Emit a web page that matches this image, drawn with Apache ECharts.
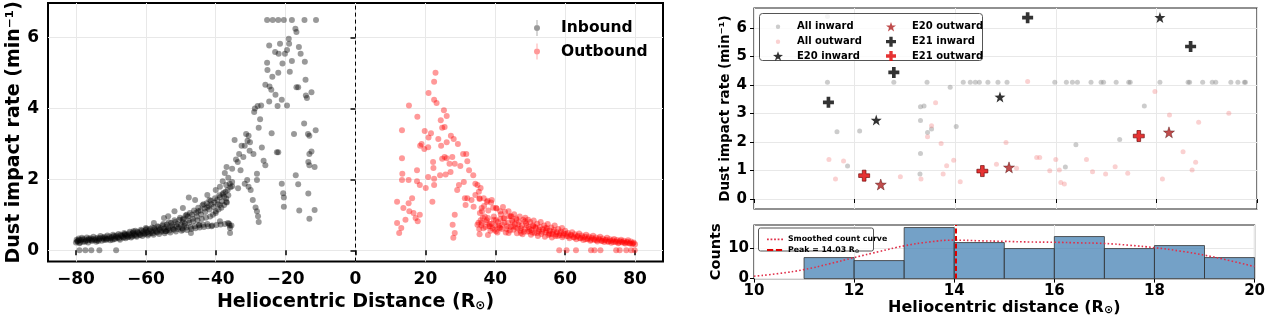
<!DOCTYPE html>
<html>
<head>
<meta charset="utf-8">
<script src="https://cdn.jsdelivr.net/npm/echarts@6/dist/echarts.min.js"></script>
<style>
  html, body { margin: 0; padding: 0; background: #fff; }
  #chart { width: 1268px; height: 317px; }
</style>
</head>
<body>
<div id="chart"></div>
<script>
// ---- left panel: impact rate vs signed heliocentric distance ----
const leftXTicks = [-80, -60, -40, -20, 0, 20, 40, 60, 80]
const leftYTicks = [0, 2, 4, 6]

// inbound, scattered part
const inboundSpread = [
  [-25.3,6.5],[-23.7,6.5],[-22.1,6.5],[-20.5,6.5],[-18.2,6.5],[-14.6,6.5],[-11.3,6.5],
  [-17.2,6.25],[-16.9,6.16],[-19.1,5.97],[-19.0,5.83],[-21.6,5.83],[-19.6,5.65],[-16.2,5.74],
  [-24.7,5.78],[-23.0,5.6],[-20.2,5.55],[-15.7,5.55],[-22.0,5.55],[-25.3,5.29],[-14.5,5.32],
  [-18.2,5.34],[-25.2,5.09],[-20.9,5.27],[-22.1,5.01],[-23.8,4.9],[-18.8,5.04],[-14.3,4.81],
  [-25.8,4.67],[-24.6,4.62],[-24.1,4.53],[-16.9,4.6],[-16.4,4.6],[-12.6,4.46],[-14.2,4.37],
  [-13.9,4.3],[-22.9,4.39],[-21.1,4.25],[-19.6,4.09],[-22.3,4.07],[-24.7,4.2],[-28.0,4.07],
  [-27.0,4.09],[-28.8,4.0],[-29.0,3.9],[-27.3,3.7],[-14.7,3.58],[-11.4,3.39],[-27.7,3.46],
  [-34.6,3.11],[-31.3,3.28],[-30.6,3.23],[-30.9,3.09],[-30.2,3.05],[-24.0,3.3],[-17.6,3.28],
  [-13.6,3.28],[-13.2,3.23],[-32.6,2.95],[-31.7,2.95],[-26.8,2.9],[-30.3,2.81],[-22.5,2.77],
  [-22.1,2.77],[-12.6,2.79],[-13.2,2.72],[-33.3,2.72],[-29.2,2.72],[-32.1,2.63],[-34.2,2.56],
  [-33.7,2.49],[-26.3,2.53],[-13.5,2.49],[-13.2,2.4],[-25.8,2.4],[-36.9,2.35],[-11.7,2.35],
  [-35.3,2.3],[-32.9,2.26],[-37.4,2.18],[-28.2,2.16],[-17.1,2.12],[-36.4,2.05],[-31.0,1.98],
  [-28.2,1.98],[-38.0,1.95],[-35.3,1.93],[-16.4,1.86],[-21.1,1.88],[-31.7,1.88],[-37.0,1.84],
  [-35.3,1.81],[-30.6,1.79],[-38.8,1.79],[-33.6,1.75],[-40.0,1.7],[-30.0,1.7],[-20.7,1.61],
  [-13.5,1.6],[-42.4,1.56],[-37.6,1.51],[-20.5,1.49],[-47.7,1.49],[-45.9,1.42],[-41.8,1.42],
  [-29.4,1.42],[-37.0,1.36],[-43.5,1.3],[-38.8,1.28],[-42.4,1.21],[-20.5,1.23],[-28.6,1.21],
  [-16.1,1.12],[-11.7,1.14],[-49.4,1.19],[-28.2,1.1],[-51.8,1.1],[-45.0,1.1],[-40.0,1.05],
  [-27.9,0.96],[-48.3,1.0],[-53.6,0.96],[-13.2,0.89],[-27.7,0.8],[-54.8,0.91],[-49.4,0.86],
  [-38.8,0.82],[-36.5,0.77],[-36.0,0.7],[-57.7,0.77],[-44.7,0.72],[-41.2,0.68],[-35.9,0.63],
  [-49.4,0.58],[-60.0,0.63],[-54.2,0.54],[-35.9,0.49],[-47.1,0.49],[-63.6,0.54],[-66.0,0.45]
]
// inbound, dense band from -80 to -36
const inboundBand = [
  [-80.0,0.22],[-79.8,0.30],[-79.5,0.26],[-79.2,0.33],[-79.0,0.20],[-78.6,0.28],[-78.3,0.35],
  [-78.0,0.24],[-77.6,0.31],[-77.2,0.27],[-76.9,0.36],[-76.5,0.22],[-76.1,0.30],[-75.8,0.34],
  [-75.4,0.26],[-75.0,0.38],[-74.6,0.29],[-74.2,0.24],[-73.8,0.35],[-73.4,0.31],[-73.0,0.40],
  [-72.6,0.27],[-72.2,0.33],[-71.8,0.38],[-71.4,0.29],[-71.0,0.42],[-70.6,0.33],[-70.2,0.28],
  [-69.8,0.37],[-69.4,0.44],[-69.0,0.31],[-68.6,0.39],[-68.2,0.35],[-67.8,0.46],[-67.4,0.30],
  [-67.0,0.41],[-66.6,0.37],[-66.2,0.49],[-65.8,0.34],[-65.4,0.44],[-65.0,0.39],[-64.6,0.52],
  [-64.2,0.36],[-63.8,0.47],[-63.4,0.42],[-63.0,0.55],[-62.6,0.38],[-62.2,0.50],[-61.8,0.44],
  [-61.4,0.58],[-61.0,0.40],[-60.6,0.53],[-60.2,0.47],[-59.8,0.61],[-59.4,0.42],[-59.0,0.56],
  [-58.6,0.49],[-58.2,0.64],[-57.8,0.44],[-57.4,0.59],[-57.0,0.52],[-56.6,0.68],[-56.2,0.46],
  [-55.8,0.62],[-55.4,0.55],[-55.0,0.74],[-54.6,0.48],[-54.2,0.66],[-53.8,0.58],[-53.4,0.79],
  [-53.0,0.50],[-52.6,0.70],[-52.2,0.61],[-51.8,0.85],[-51.4,0.53],[-51.0,0.74],[-50.6,0.65],
  [-50.2,0.92],[-49.8,0.55],[-49.4,0.79],[-49.0,0.69],[-48.6,0.98],[-48.2,0.57],[-47.8,0.84],
  [-47.4,1.05],[-47.0,0.60],[-46.6,0.89],[-46.2,1.12],[-45.8,0.62],[-45.4,0.95],[-45.0,1.20],
  [-44.6,0.64],[-44.2,1.01],[-43.8,1.27],[-43.4,0.66],[-43.0,1.08],[-42.6,1.33],[-42.2,0.68],
  [-41.8,1.15],[-41.4,1.40],[-41.0,0.70],[-40.6,1.22],[-40.2,1.47],[-39.8,0.71],[-39.4,1.30],
  [-39.0,1.55],[-38.6,0.73],[-38.2,1.38],[-37.8,1.62],[-37.4,0.74],[-37.0,1.46],[-36.6,1.70],
  [-36.2,0.75],[-35.8,1.78],[-35.5,0.70],
  [-79.6,0.25],[-79.1,0.29],[-78.8,0.22],[-78.1,0.31],[-77.4,0.24],[-76.7,0.29],[-76.3,0.33],
  [-75.6,0.28],[-75.2,0.31],[-74.4,0.33],[-74.0,0.28],[-73.6,0.26],[-73.2,0.34],[-72.4,0.36],
  [-72.0,0.30],[-71.6,0.34],[-71.2,0.32],[-70.4,0.39],[-70.0,0.34],[-69.6,0.30],[-69.2,0.40],
  [-68.8,0.33],[-68.4,0.42],[-68.0,0.37],[-67.6,0.33],[-67.2,0.44],[-66.8,0.40],[-66.4,0.35],
  [-66.0,0.45],[-65.6,0.41],[-65.2,0.37],[-64.8,0.47],[-64.4,0.43],[-64.0,0.39],[-63.6,0.50],
  [-63.2,0.45],[-62.8,0.41],[-62.4,0.52],[-62.0,0.47],[-61.6,0.43],[-61.2,0.55],[-60.8,0.49],
  [-60.4,0.45],[-60.0,0.57],[-59.6,0.51],[-59.2,0.46],[-58.8,0.60],[-58.4,0.53],[-58.0,0.48],
  [-57.6,0.63],[-57.2,0.55],[-56.8,0.50],[-56.4,0.66],[-56.0,0.58],[-55.6,0.52],[-55.2,0.70],
  [-54.8,0.61],[-54.4,0.54],[-54.0,0.73],[-53.6,0.63],[-53.2,0.56],[-52.8,0.77],[-52.4,0.66],
  [-52.0,0.58],[-51.6,0.80],[-51.2,0.68],[-50.8,0.60],[-50.4,0.86],[-50.0,0.72],[-49.6,0.62],
  [-49.2,0.90],[-48.8,0.75],[-48.4,0.64],[-48.0,0.95],[-47.6,0.78],[-47.2,0.66],[-46.8,1.00],
  [-46.4,0.82],[-46.0,0.68],[-45.6,1.06],[-45.2,0.85],[-44.8,0.70],[-44.4,1.12],[-44.0,0.88],
  [-43.6,0.72],[-43.2,1.18],[-42.8,0.92],[-42.4,0.74],[-42.0,1.25],[-41.6,0.95],[-41.2,1.30],
  [-40.8,1.00],[-40.4,1.35],[-40.0,1.10],[-39.6,1.42],[-39.2,1.15],[-38.8,1.50],[-38.4,1.20],
  [-38.0,1.58],[-37.6,1.28],[-37.2,1.65],[-36.8,1.35],[-36.4,1.55],[-36.0,1.88]
]
const inboundZero = [[-79.0,0],[-77.3,0],[-75.6,0],[-73.3,0],[-68.5,0]]

// outbound, scattered part
const outboundSpread = [
  [22.9,5.01],[22.5,4.76],[20.9,4.44],[22.5,4.25],[23.2,4.16],[15.3,4.09],[25.3,3.95],
  [26.1,3.79],[17.7,3.77],[24.4,3.67],[25.5,3.48],[24.8,3.46],[19.8,3.37],[13.3,3.39],
  [21.6,3.3],[27.3,3.23],[28.1,3.14],[20.9,3.18],[23.7,3.14],[18.9,3.0],[26.1,3.05],[29.3,3.0],
  [30.8,2.72],[31.7,2.72],[20.8,2.91],[18.5,2.95],[19.7,2.86],[24.5,2.95],[25.5,2.63],
  [26.1,2.6],[24.8,2.58],[27.7,2.63],[13.3,2.6],[22.2,2.49],[26.9,2.44],[28.4,2.44],[32.0,2.51],
  [17.6,2.26],[22.3,2.32],[30.0,2.38],[13.4,2.16],[32.5,2.26],[20.8,2.07],[22.5,2.02],
  [24.2,2.12],[25.8,2.14],[27.2,2.21],[33.7,2.12],[13.3,1.98],[15.2,1.98],[17.6,1.95],
  [31.0,1.93],[18.4,1.84],[22.5,1.84],[20.1,1.76],[29.6,1.84],[34.3,1.88],[34.9,1.84],
  [35.8,1.76],[35.3,1.65],[29.1,1.7],[34.3,1.56],[32.0,1.47],[33.2,1.42],[35.5,1.47],
  [36.7,1.47],[39.0,1.42],[37.6,1.36],[31.3,1.47],[16.2,1.47],[11.9,1.37],[15.2,1.33],
  [22.0,1.37],[31.5,1.28],[33.8,1.23],[36.1,1.19],[40.2,1.19],[41.4,1.1],[13.7,1.19],
  [15.4,1.1],[16.6,1.05],[18.4,1.0],[28.4,1.0],[44.4,0.96],[46.1,0.86],[48.5,0.82],[37.9,0.91],
  [39.6,0.86],[42.6,0.91],[11.9,0.77],[14.3,0.86],[17.2,0.91],[17.8,0.82],[27.8,0.72],
  [34.9,0.72],[36.1,0.77],[38.5,0.68],[41.4,0.63],[45.0,0.68],[50.9,0.68],[54.4,0.63],
  [12.5,0.49],[13.1,0.63],[28.0,0.35],[28.4,0.49],[35.5,0.45],[37.9,0.43],[40.2,0.54],
  [43.8,0.49],[47.3,0.49],[49.7,0.54],[52.0,0.49],[55.6,0.45],[59.1,0.63],[57.9,0.4]
]
// outbound, dense band from 35 to 80
const outboundBand = [
  [35.2,0.78],[35.6,1.05],[36.0,0.70],[36.4,0.92],[36.8,1.25],[37.2,0.66],[37.6,0.85],
  [38.0,1.12],[38.4,0.74],[38.8,1.35],[39.2,0.62],[39.6,0.95],[40.0,0.70],[40.4,1.18],
  [40.8,0.80],[41.2,0.64],[41.6,1.02],[42.0,0.72],[42.4,0.90],[42.8,1.08],[43.2,0.60],
  [43.6,0.78],[44.0,0.95],[44.4,0.66],[44.8,0.84],[45.2,0.58],[45.6,0.74],[46.0,0.90],
  [46.4,0.62],[46.8,0.80],[47.2,0.55],[47.6,0.70],[48.0,0.86],[48.4,0.60],[48.8,0.76],
  [49.2,0.52],[49.6,0.66],[50.0,0.80],[50.4,0.57],[50.8,0.70],[51.2,0.49],[51.6,0.63],
  [52.0,0.75],[52.4,0.53],[52.8,0.66],[53.2,0.46],[53.6,0.59],[54.0,0.70],[54.4,0.50],
  [54.8,0.62],[55.2,0.43],[55.6,0.55],[56.0,0.64],[56.4,0.46],[56.8,0.57],[57.2,0.40],
  [57.6,0.51],[58.0,0.60],[58.4,0.43],[58.8,0.53],[59.2,0.37],[59.6,0.47],[60.0,0.55],
  [60.4,0.40],[60.8,0.49],[61.2,0.34],[61.6,0.44],[62.0,0.51],[62.4,0.37],[62.8,0.45],
  [63.2,0.31],[63.6,0.41],[64.0,0.47],[64.4,0.34],[64.8,0.42],[65.2,0.29],[65.6,0.38],
  [66.0,0.44],[66.4,0.31],[66.8,0.39],[67.2,0.27],[67.6,0.35],[68.0,0.41],[68.4,0.29],
  [68.8,0.36],[69.2,0.25],[69.6,0.33],[70.0,0.38],[70.4,0.27],[70.8,0.33],[71.2,0.23],
  [71.6,0.30],[72.0,0.35],[72.4,0.25],[72.8,0.31],[73.2,0.21],[73.6,0.28],[74.0,0.32],
  [74.4,0.23],[74.8,0.29],[75.2,0.20],[75.6,0.26],[76.0,0.30],[76.4,0.22],[76.8,0.27],
  [77.2,0.19],[77.6,0.24],[78.0,0.28],[78.4,0.20],[78.8,0.25],[79.2,0.18],[79.6,0.22],[80.0,0.17],
  [35.5,1.45],[36.2,1.10],[37.0,0.95],[37.8,1.40],[38.6,0.55],[39.4,1.20],[40.6,0.50],
  [41.4,0.88],[42.2,1.22],[43.0,0.50],[43.8,1.10],[44.6,0.96],[45.4,1.02],[46.2,0.48],
  [47.0,0.95],[47.8,0.45],[48.6,0.92],[49.4,0.86],[50.2,0.44],[51.0,0.84],[52.2,0.40],
  [53.0,0.80],[54.2,0.38],[55.0,0.74],[56.2,0.36],[57.0,0.70],
  [35.4,0.60],[35.8,0.85],[36.6,0.62],[37.4,0.80],[38.2,0.68],[39.0,0.75],[39.8,0.58],
  [40.2,0.85],[41.0,0.70],[41.8,0.60],[42.6,0.78],[43.4,0.68],[44.2,0.56],[45.0,0.80],
  [45.8,0.64],[46.6,0.72],[47.4,0.62],[48.2,0.52],[49.0,0.70],[49.8,0.60],[50.6,0.50],
  [51.4,0.66],[52.6,0.58],[53.4,0.52],[54.6,0.56],[55.4,0.48],[56.6,0.52],[57.4,0.45],
  [58.6,0.48],[59.4,0.42],[60.2,0.46],[61.0,0.39],[61.8,0.42],[62.6,0.36],[63.4,0.39],
  [64.2,0.34],[65.0,0.36],[65.8,0.31],[66.6,0.34],[67.4,0.30],[68.2,0.32],[69.0,0.28],
  [69.8,0.30],[70.6,0.26],[71.4,0.28],[72.2,0.24],[73.0,0.26],[73.8,0.23],[74.6,0.25],
  [75.4,0.22],[76.2,0.24],[77.0,0.21],[77.8,0.22],[78.6,0.19],[79.4,0.20]
]
const outboundZero = [[58.3,0],[60.4,0],[63.1,0],[67.4,0],[68.4,0],[70.1,0],[74.6,0],[75.6,0],[77.5,0],[78.9,0],[79.9,0]]

// ---- right top panel: events between 10 and 20 Rsun ----
const rightYTicks = [0, 1, 2, 3, 4, 5, 6]
const allInward = [
  [11.46,6.4],
  [11.46,4.1],[12.78,4.1],[13.44,4.1],[14.16,4.1],[14.30,4.1],[14.40,4.1],[14.48,4.1],[14.65,4.1],
  [14.85,4.1],[15.03,4.1],[15.98,4.1],[16.21,4.1],[16.33,4.1],[16.43,4.1],[16.70,4.1],[16.90,4.1],
  [16.95,4.1],[17.20,4.1],[17.45,4.1],[17.48,4.1],[18.07,4.1],[18.63,4.1],[18.66,4.1],[18.92,4.1],
  [19.11,4.1],[19.18,4.1],[19.48,4.1],[19.62,4.1],[19.75,4.1],[19.77,4.1],
  [11.65,2.36],[11.86,1.16],[12.10,2.39],[13.31,3.24],[13.38,3.26],[13.31,2.75],[13.31,1.60],
  [13.30,0.88],[13.45,2.33],[13.53,2.46],[13.90,3.92],[14.02,2.54],[16.40,1.90],[16.19,1.12],
  [17.27,2.09],[17.76,3.26]
]
const allOutward = [
  [11.49,1.39],[11.62,0.70],[11.78,1.33],[12.91,0.78],[13.32,0.70],[13.45,2.18],[13.53,2.57],
  [13.61,3.38],[13.72,1.95],[13.76,0.88],[13.83,1.17],[13.97,1.36],[14.10,0.61],[14.82,1.22],
  [15.01,1.98],[15.22,1.08],[15.44,4.12],[15.62,1.46],[15.68,1.46],[15.88,0.99],[16.00,1.39],
  [16.07,1.02],[16.10,0.58],[16.17,0.53],[16.61,1.39],[16.73,0.96],[16.99,0.88],[17.18,1.13],
  [17.43,0.90],[17.97,3.77],[18.12,0.70],[18.26,2.95],[18.53,1.66],[18.71,1.02],[18.78,1.29],
  [18.84,2.69],[19.44,3.01]
]
const e20Inward = [[12.43,2.77],[14.89,3.58],[18.07,6.37]]
const e20Outward = [[12.52,0.51],[15.07,1.11],[18.25,2.34]]
const e21Inward = [[11.48,3.39],[12.78,4.44],[15.44,6.36],[18.68,5.35]]
const e21Outward = [[12.19,0.82],[14.54,0.98],[17.65,2.21]]

// ---- right bottom panel: histogram of event distances ----
const binEdges = [11, 12, 13, 14, 15, 16, 17, 18, 19, 20]
const binCounts = [7, 6, 17, 12, 10, 14, 10, 11, 7]
const countTicks = [0, 10]
const smoothX = [10, 10.5, 11, 11.5, 12, 12.5, 13, 13.5, 14, 14.5, 15, 15.5, 16, 16.5, 17, 17.5, 18, 18.5, 19, 19.5, 20]
const smoothY = [0.8, 1.7, 3.0, 4.9, 7.0, 9.0, 10.9, 12.2, 12.8, 12.6, 12.4, 12.2, 12.1, 11.9, 11.7, 11.1, 10.3, 9.2, 7.8, 6.0, 4.0]
const peakDistance = 14.03

const FONT = 'DejaVu Sans'
const STAR = 'path://M0,-10L2.35,-3.24L9.51,-3.09L3.8,1.24L5.88,8.09L0,4L-5.88,8.09L-3.8,1.24L-9.51,-3.09L-2.35,-3.24Z'
const PLUS = 'path://M-2,-6L2,-6L2,-2L6,-2L6,2L2,2L2,6L-2,6L-2,2L-6,2L-6,-2L-2,-2Z'
const ERRDOT = 'path://M4.6,0L5.4,0L5.4,16L4.6,16Z M5,5A3,3 0 1,1 5,11A3,3 0 1,1 5,5Z'
// icons padded to their box by tiny specks in the corners, so they are not stretched
const SMALLDOT = 'path://M0,0L0.01,0L0,0.01Z M10,10L9.99,10L10,9.99Z M5,2.8A2.2,2.2 0 1,1 5,7.2A2.2,2.2 0 1,1 5,2.8Z'
const DOTTED = 'path://M0,-3L0.01,-3L0,-2.99Z M18,5L17.99,5L18,4.99Z M0,0L2,0L2,2L0,2Z M4,0L6,0L6,2L4,2Z M8,0L10,0L10,2L8,2Z M12,0L14,0L14,2L12,2Z M16,0L18,0L18,2L16,2Z'
const DASHED = 'path://M0,-3L0.01,-3L0,-2.99Z M18,5L17.99,5L18,4.99Z M0,0L7,0L7,2L0,2Z M10,0L17,0L17,2L10,2Z'

const minus = (v) => (v < 0 ? '\u2212' + Math.abs(v) : String(v))
const gridLine = { show: true, lineStyle: { color: '#e8e8e8', width: 1 } }
const peakName = 'Peak = ' + peakDistance + ' R\u2299'

// one legend component per entry, so every row sits exactly where it should
function entry(name, icon, left, top, w, h, fontSize, pad, extra) {
  return Object.assign({
    data: [{ name: name, icon: icon }], orient: 'vertical', left: left, top: top,
    itemWidth: w, itemHeight: h, itemStyle: { borderWidth: 0 },
    textStyle: { color: '#000', fontWeight: 'bold', fontSize: fontSize, lineHeight: h, padding: [0, 0, 0, pad], fontFamily: FONT }
  }, extra || {})
}

const chart = echarts.init(document.getElementById('chart'), null, { renderer: 'canvas' })

chart.setOption({
  animation: false,
  textStyle: { fontFamily: FONT },
  grid: [
    { left: 48, top: 3, width: 615, height: 261, show: true, borderColor: '#000', borderWidth: 2, backgroundColor: 'transparent' },
    { left: 754, top: 8, width: 503, height: 201, show: true, borderColor: '#222', borderWidth: 1.2, backgroundColor: 'transparent' },
    { left: 754, top: 225, width: 503, height: 55, show: true, borderColor: '#222', borderWidth: 1.2, backgroundColor: 'transparent' }
  ],
  xAxis: [
    {
      type: 'value', gridIndex: 0, min: -88, max: 88,
      axisLine: { show: false },
      axisTick: { show: true, customValues: leftXTicks, length: 5, lineStyle: { color: '#000', width: 1.5 } },
      axisLabel: { customValues: leftXTicks, formatter: minus, color: '#000', fontWeight: 'bold', fontSize: 17, margin: 9, fontFamily: FONT },
      splitLine: gridLine,
      name: 'Heliocentric Distance (R{s|\u2299})', nameLocation: 'middle', nameGap: 25,
      nameTextStyle: { color: '#000', fontWeight: 'bold', fontSize: 19, fontFamily: FONT,
        rich: { s: { fontSize: 12, fontWeight: 'bold', color: '#000', padding: [8, 0, 0, 0], fontFamily: FONT } } }
    },
    {
      type: 'value', gridIndex: 1, min: 10, max: 20, interval: 2,
      axisLine: { show: false },
      axisTick: { show: true, length: 4, lineStyle: { color: '#000' } },
      axisLabel: { show: false },
      splitLine: gridLine
    },
    {
      type: 'value', gridIndex: 2, min: 10, max: 20, interval: 2,
      axisLine: { show: false },
      axisTick: { show: true, length: 4, lineStyle: { color: '#000' } },
      axisLabel: { color: '#000', fontWeight: 'bold', fontSize: 15, margin: 5, fontFamily: FONT },
      splitLine: gridLine,
      name: 'Heliocentric distance (R{s|\u2299})', nameLocation: 'middle', nameGap: 20,
      nameTextStyle: { color: '#000', fontWeight: 'bold', fontSize: 16, fontFamily: FONT,
        rich: { s: { fontSize: 11, fontWeight: 'bold', color: '#000', padding: [6, 0, 0, 0], fontFamily: FONT } } }
    }
  ],
  yAxis: [
    {
      type: 'value', gridIndex: 0, min: -0.32, max: 6.98,
      axisLine: { show: false },
      axisTick: { show: true, customValues: leftYTicks, length: 5, lineStyle: { color: '#000', width: 1.5 } },
      axisLabel: { customValues: leftYTicks, color: '#000', fontWeight: 'bold', fontSize: 17, margin: 9, fontFamily: FONT },
      splitLine: gridLine,
      name: 'Dust impact rate (min\u207B\u00B9)', nameLocation: 'middle', nameGap: 24, nameRotate: 90,
      nameTextStyle: { color: '#000', fontWeight: 'bold', fontSize: 19, fontFamily: FONT }
    },
    {
      type: 'value', gridIndex: 1, min: -0.35, max: 6.7,
      axisLine: { show: false },
      axisTick: { show: true, customValues: rightYTicks, length: 4, lineStyle: { color: '#000' } },
      axisLabel: { customValues: rightYTicks, color: '#000', fontWeight: 'bold', fontSize: 15, margin: 7, fontFamily: FONT },
      splitLine: gridLine,
      name: 'Dust impact rate (min\u207B\u00B9)', nameLocation: 'middle', nameGap: 18, nameRotate: 90,
      nameTextStyle: { color: '#000', fontWeight: 'bold', fontSize: 13.5, fontFamily: FONT }
    },
    {
      type: 'value', gridIndex: 2, min: 0, max: 17.85,
      axisLine: { show: false },
      axisTick: { show: true, customValues: countTicks, length: 4, lineStyle: { color: '#000' } },
      axisLabel: { customValues: countTicks, color: '#000', fontWeight: 'bold', fontSize: 15, margin: 5, fontFamily: FONT },
      splitLine: gridLine,
      name: 'Counts', nameLocation: 'middle', nameGap: 22, nameRotate: 90,
      nameTextStyle: { color: '#000', fontWeight: 'bold', fontSize: 14.5, fontFamily: FONT }
    }
  ],
  legend: [
    entry('Inbound', ERRDOT, 529, 15, 10, 16, 15.5, 14),
    entry('Outbound', ERRDOT, 529, 38.5, 10, 16, 15.5, 14),

    entry('All inward', SMALLDOT, 768, 16.7, 10, 10, 10, 9),
    entry('All outward', SMALLDOT, 768, 31.7, 10, 10, 10, 9),
    entry('E20 inward', STAR, 768, 46, 10, 10, 10, 9),
    entry('E20 outward', STAR, 881, 16.7, 10, 10, 10, 11),
    entry('E21 inward', PLUS, 881, 31.7, 10, 10, 10, 11),
    entry('E21 outward', PLUS, 881, 46, 10, 10, 10, 11),

    entry('Smoothed count curve', DOTTED, 762, 230.3, 16, 8, 7.8, 0),
    entry(peakName, DASHED, 762, 241, 16, 8, 7.8, 0, {
      formatter: (n) => n.replace('R\u2299', 'R{s|\u2299}'),
      textStyle: { color: '#000', fontWeight: 'bold', fontSize: 7.8, lineHeight: 8, fontFamily: FONT,
        rich: { s: { fontSize: 5.5, fontWeight: 'bold', color: '#000', padding: [3, 0, 0, 0] } } }
    })
  ],
  graphic: [
    { type: 'rect', left: 759, top: 13, z: 3, shape: { width: 223, height: 47, r: 3 },
      style: { fill: 'rgba(255,255,255,0.8)', stroke: '#555', lineWidth: 1 } },
    { type: 'rect', left: 758, top: 227.5, z: 3, shape: { width: 115, height: 23, r: 2 },
      style: { fill: 'rgba(255,255,255,0.8)', stroke: '#555', lineWidth: 1 } }
  ],
  series: [
    {
      name: 'Inbound', type: 'scatter', xAxisIndex: 0, yAxisIndex: 0,
      data: inboundBand.concat(inboundSpread, inboundZero),
      symbol: 'circle', symbolSize: 6,
      itemStyle: { color: 'rgba(0,0,0,0.5)' },
      markLine: {
        silent: true, symbol: 'none', label: { show: false },
        lineStyle: { color: '#000', type: [4, 3], width: 1 },
        data: [{ xAxis: 0 }]
      }
    },
    {
      name: 'Outbound', type: 'scatter', xAxisIndex: 0, yAxisIndex: 0,
      data: outboundBand.concat(outboundSpread, outboundZero),
      symbol: 'circle', symbolSize: 6,
      itemStyle: { color: 'rgba(255,0,0,0.5)' }
    },
    {
      name: 'All inward', type: 'scatter', xAxisIndex: 1, yAxisIndex: 1, data: allInward,
      symbol: 'circle', symbolSize: 5, itemStyle: { color: 'rgba(128,128,128,0.5)' }
    },
    {
      name: 'All outward', type: 'scatter', xAxisIndex: 1, yAxisIndex: 1, data: allOutward,
      symbol: 'circle', symbolSize: 5, itemStyle: { color: 'rgba(240,128,128,0.45)' }
    },
    {
      name: 'E20 inward', type: 'scatter', xAxisIndex: 1, yAxisIndex: 1, data: e20Inward, z: 5,
      symbol: STAR, symbolSize: 11, itemStyle: { color: '#000' }
    },
    {
      name: 'E20 outward', type: 'scatter', xAxisIndex: 1, yAxisIndex: 1, data: e20Outward, z: 5,
      symbol: STAR, symbolSize: 11, itemStyle: { color: '#b02020', borderColor: '#400', borderWidth: 0.5 }
    },
    {
      name: 'E21 inward', type: 'scatter', xAxisIndex: 1, yAxisIndex: 1, data: e21Inward, z: 5,
      symbol: PLUS, symbolSize: 11, itemStyle: { color: '#000' }
    },
    {
      name: 'E21 outward', type: 'scatter', xAxisIndex: 1, yAxisIndex: 1, data: e21Outward, z: 5,
      symbol: PLUS, symbolSize: 11, itemStyle: { color: '#e00000', borderColor: '#600', borderWidth: 0.8 }
    },
    {
      name: 'hist', type: 'custom', xAxisIndex: 2, yAxisIndex: 2,
      data: binCounts.map((c, i) => [binEdges[i], binEdges[i + 1], c]),
      encode: { x: [0, 1], y: 2 },
      renderItem: (params, api) => {
        const p0 = api.coord([api.value(0), 0])
        const p1 = api.coord([api.value(1), api.value(2)])
        return {
          type: 'rect',
          shape: { x: p0[0], y: p1[1], width: p1[0] - p0[0], height: p0[1] - p1[1] },
          style: { fill: 'rgba(70,130,180,0.75)', stroke: '#333', lineWidth: 0.8 }
        }
      }
    },
    {
      name: 'Smoothed count curve', type: 'line', xAxisIndex: 2, yAxisIndex: 2, z: 4,
      data: smoothX.map((x, i) => [x, smoothY[i]]),
      smooth: true, symbol: 'none',
      lineStyle: { color: '#e0304a', width: 1.6, type: [1.6, 2.2] },
      itemStyle: { color: '#e0304a' }
    },
    {
      name: peakName, type: 'line', xAxisIndex: 2, yAxisIndex: 2, z: 4,
      data: [], symbol: 'none',
      lineStyle: { color: '#e00000', width: 2, type: [5, 2.5] },
      itemStyle: { color: '#e00000' },
      markLine: {
        silent: true, symbol: 'none', label: { show: false },
        lineStyle: { color: '#e00000', width: 2, type: [5, 2.5] },
        data: [{ xAxis: peakDistance }]
      }
    }
  ]
})
</script>
</body>
</html>
